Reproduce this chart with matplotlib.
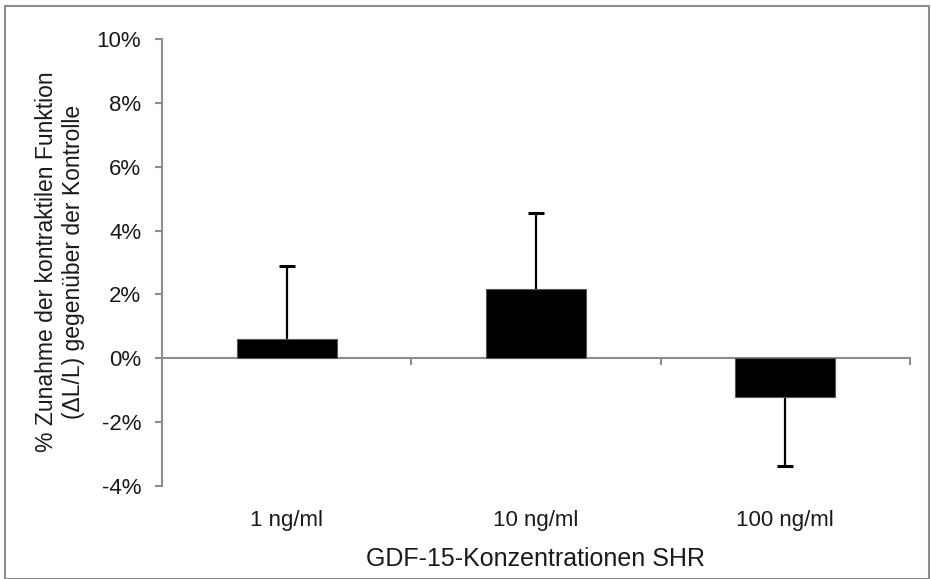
import matplotlib
matplotlib.use("Agg")
import matplotlib.pyplot as plt
from matplotlib.patches import Rectangle
from matplotlib.ticker import FuncFormatter

plt.rcParams['font.family'] = ['Liberation Sans', 'DejaVu Sans']

# Mean change per concentration and one-sided error (%)
concentrations = ['1 ng/ml', '10 ng/ml', '100 ng/ml']
mean_change = [0.6, 2.17, -1.21]
error = [2.3, 2.38, 2.17]

axis_grey = '#8c8c8c'
text_col = '#1a1a1a'

fig = plt.figure(figsize=(9.31, 5.79), dpi=100)
ax = fig.add_axes([162 / 931, 1 - 486 / 579, (910 - 162) / 931, (486 - 39) / 579])

x = list(range(len(concentrations)))
# error bar only points away from zero
ends = [m + e if m >= 0 else m - e for m, e in zip(mean_change, error)]

ax.bar(x, mean_change, width=0.4, color='black', edgecolor='#555555', linewidth=0.8, zorder=3)
ax.vlines(x, mean_change, ends, color='black', linewidth=1.6, zorder=2)
ax.plot(x, ends, linestyle='none', marker='_', markersize=11.5, markeredgewidth=2.2,
        color='black', zorder=2)

ax.set_xlim(-0.5, 2.5)
ax.set_ylim(-4, 10)
ax.set_yticks(range(-4, 11, 2))
ax.yaxis.set_major_formatter(FuncFormatter(lambda v, _: f'{v:.0f}%'))

for side in ('top', 'right'):
    ax.spines[side].set_visible(False)
ax.spines['bottom'].set_position(('data', 0))
for side in ('left', 'bottom'):
    ax.spines[side].set_color(axis_grey)
    ax.spines[side].set_linewidth(1.5)

ax.set_xticks([0.5, 1.5, 2.5])
ax.set_xticklabels([])
ax.tick_params(axis='x', direction='out', length=5, width=1.5, color=axis_grey)
ax.tick_params(axis='y', direction='out', length=5, width=1.5, color=axis_grey,
               labelsize=16, pad=10, labelcolor=text_col)

# category labels sit below the plot area, not on the zero line
for xi, name in zip(x, concentrations):
    ax.text(xi, -0.0906, name, transform=ax.get_xaxis_transform(),
            ha='center', va='baseline', fontsize=16, color=text_col)

ax.text(0.5, -0.179, 'GDF-15-Konzentrationen SHR', transform=ax.transAxes,
        ha='center', va='baseline', fontsize=18, color=text_col)

fig.text(60 / 931, 1 - 262 / 579,
         '% Zunahme der kontraktilen Funktion\n(ΔL/L) gegenüber der Kontrolle',
         rotation=90, ha='center', va='center', fontsize=16.5, color=text_col,
         linespacing=1.25)

# thin frame round the whole figure
fig.patches.append(Rectangle((5 / 931, 0), 924 / 931, 1 - 6 / 579,
                             transform=fig.transFigure, fill=False,
                             edgecolor=axis_grey, linewidth=1.5))

fig.savefig('out.png', dpi=100)
